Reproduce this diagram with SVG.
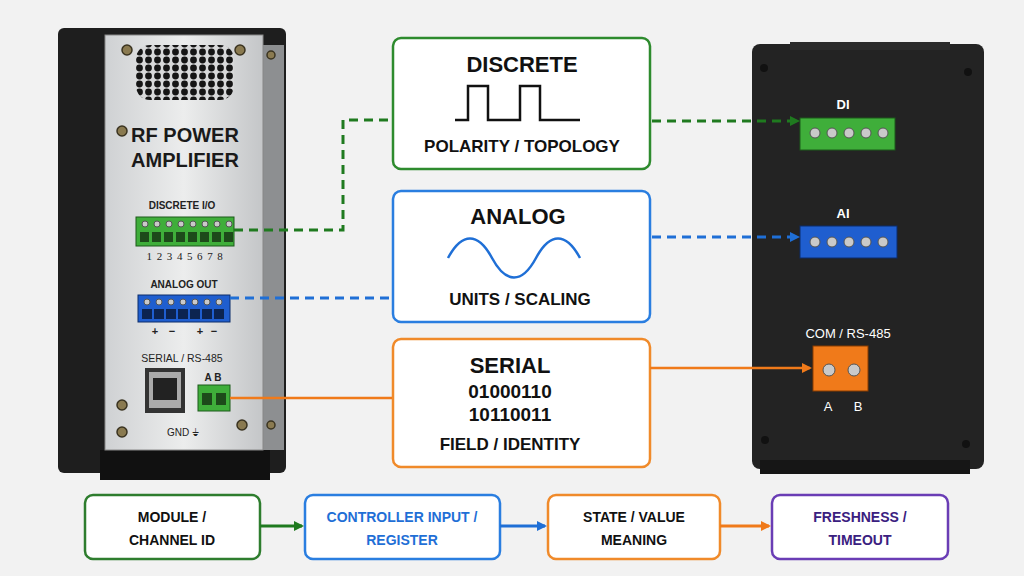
<svg xmlns="http://www.w3.org/2000/svg" width="1024" height="576" viewBox="0 0 1024 576">
<defs>
<style>
.t{font-family:"Liberation Sans",Arial,sans-serif;font-weight:bold;text-anchor:middle}
.f{font-family:"Liberation Sans",Arial,sans-serif;font-weight:bold;text-anchor:middle;font-size:14px}
.box{fill:#fff;stroke-width:2.5}
.screw{fill:#c9c9c9;stroke:#555;stroke-width:1}
.brass{fill:#8a7a50;stroke:#3a3320;stroke-width:1.5}
</style>
<marker id="ag" markerWidth="10" markerHeight="10" refX="8" refY="5" orient="auto" markerUnits="userSpaceOnUse"><path d="M0,0L10,5L0,10z" fill="#1f7a1f"/></marker>
<marker id="ab" markerWidth="10" markerHeight="10" refX="8" refY="5" orient="auto" markerUnits="userSpaceOnUse"><path d="M0,0L10,5L0,10z" fill="#1f6fd6"/></marker>
<marker id="ao" markerWidth="10" markerHeight="10" refX="8" refY="5" orient="auto" markerUnits="userSpaceOnUse"><path d="M0,0L10,5L0,10z" fill="#f07a1a"/></marker>
<linearGradient id="panel" x1="0" x2="1"><stop offset="0" stop-color="#cfd1d3"/><stop offset="0.5" stop-color="#eceded"/><stop offset="1" stop-color="#c4c6c8"/></linearGradient>
<pattern id="hex" width="9" height="8" patternUnits="userSpaceOnUse"><rect width="9" height="8" fill="#d8d9da"/><circle cx="4.5" cy="4" r="3.4" fill="#151515"/></pattern>
</defs>
<rect width="1024" height="576" fill="#f2f2f2"/>

<g id="left-device">
<rect x="58" y="28" width="228" height="445" rx="6" fill="#1e1e1e"/>
<rect x="100" y="450" width="170" height="30" fill="#111"/>
<rect x="262" y="45" width="22" height="405" fill="#8d8f91"/>
<rect x="105" y="35" width="158" height="415" fill="url(#panel)" stroke="#888"/>
<rect x="136" y="45" width="98" height="55" rx="14" fill="url(#hex)"/>
<circle class="brass" cx="127" cy="50" r="5"/><circle class="brass" cx="240" cy="50" r="5"/>
<circle class="brass" cx="122" cy="131" r="5"/><circle class="brass" cx="122" cy="405" r="5"/>
<circle class="brass" cx="122" cy="432" r="5"/><circle class="brass" cx="242" cy="425" r="5"/>
<circle class="brass" cx="271" cy="55" r="4"/><circle class="brass" cx="271" cy="425" r="4"/>
<text class="t" x="185" y="142" font-size="20" fill="#1a1a1a">RF POWER</text>
<text class="t" x="185" y="167" font-size="20" fill="#1a1a1a">AMPLIFIER</text>
<text class="t" x="182" y="209" font-size="10" fill="#222">DISCRETE I/O</text>
<rect x="136" y="217" width="98" height="29" fill="#3fae3a" stroke="#1d5a1a"/>
<g class="screw"><circle cx="145" cy="224" r="3"/><circle cx="157" cy="224" r="3"/><circle cx="169" cy="224" r="3"/><circle cx="181" cy="224" r="3"/><circle cx="193" cy="224" r="3"/><circle cx="205" cy="224" r="3"/><circle cx="217" cy="224" r="3"/><circle cx="229" cy="224" r="3"/></g>
<g fill="#1d4a1a"><rect x="140" y="232" width="9" height="10"/><rect x="152" y="232" width="9" height="10"/><rect x="164" y="232" width="9" height="10"/><rect x="176" y="232" width="9" height="10"/><rect x="188" y="232" width="9" height="10"/><rect x="200" y="232" width="9" height="10"/><rect x="212" y="232" width="9" height="10"/><rect x="224" y="232" width="9" height="10"/></g>
<text x="187" y="260" font-family="Liberation Serif,serif" font-size="11" text-anchor="middle" fill="#222" letter-spacing="4.6">12345678</text>
<text class="t" x="184" y="288" font-size="10" fill="#222">ANALOG OUT</text>
<rect x="138" y="295" width="92" height="27" fill="#1f5ecf" stroke="#0c2d6a"/>
<g class="screw"><circle cx="147" cy="302" r="3"/><circle cx="159" cy="302" r="3"/><circle cx="171" cy="302" r="3"/><circle cx="183" cy="302" r="3"/><circle cx="195" cy="302" r="3"/><circle cx="207" cy="302" r="3"/><circle cx="219" cy="302" r="3"/></g>
<g fill="#0c2450"><rect x="142" y="309" width="10" height="10"/><rect x="154" y="309" width="10" height="10"/><rect x="166" y="309" width="10" height="10"/><rect x="178" y="309" width="10" height="10"/><rect x="190" y="309" width="10" height="10"/><rect x="202" y="309" width="10" height="10"/><rect x="214" y="309" width="10" height="10"/></g>
<text class="t" x="155" y="335" font-size="11" fill="#222">+</text><text class="t" x="172" y="335" font-size="11" fill="#222">−</text>
<text class="t" x="200" y="335" font-size="11" fill="#222">+</text><text class="t" x="214" y="335" font-size="11" fill="#222">−</text>
<text x="182" y="362" font-family="Liberation Sans,sans-serif" font-size="10.5" text-anchor="middle" fill="#222">SERIAL / RS-485</text>
<rect x="145" y="368" width="40" height="45" fill="#333"/><rect x="149" y="372" width="32" height="36" fill="#aaa"/><rect x="153" y="378" width="24" height="22" fill="#222"/>
<text class="t" x="213" y="381" font-size="10" fill="#222">A  B</text>
<rect x="198" y="385" width="32" height="26" fill="#3fae3a" stroke="#1d5a1a"/>
<rect x="202" y="393" width="10" height="12" fill="#1d4a1a"/><rect x="216" y="393" width="10" height="12" fill="#1d4a1a"/>
<text x="183" y="436" font-family="Liberation Sans,sans-serif" font-size="10" text-anchor="middle" fill="#222">GND ⏚</text>
</g>

<g id="right-device">
<rect x="752" y="44" width="232" height="425" rx="8" fill="#232323"/>
<rect x="760" y="460" width="210" height="14" fill="#161616"/>
<rect x="790" y="42" width="160" height="8" fill="#2c2c2c"/>
<g fill="#111"><circle cx="764" cy="68" r="4"/><circle cx="968" cy="72" r="4"/><circle cx="765" cy="440" r="4"/><circle cx="966" cy="444" r="4"/></g>
<text class="t" x="843" y="109" font-size="13" fill="#fff">DI</text>
<rect x="800" y="118" width="95" height="32" fill="#3fae3a" stroke="#1d5a1a"/>
<g class="screw"><circle cx="815" cy="133" r="5"/><circle cx="832" cy="133" r="5"/><circle cx="849" cy="133" r="5"/><circle cx="866" cy="133" r="5"/><circle cx="883" cy="133" r="5"/></g>
<text class="t" x="843" y="218" font-size="13" fill="#fff">AI</text>
<rect x="800" y="226" width="97" height="32" fill="#1f5ecf" stroke="#0c2d6a"/>
<g class="screw"><circle cx="815" cy="242" r="5"/><circle cx="832" cy="242" r="5"/><circle cx="849" cy="242" r="5"/><circle cx="866" cy="242" r="5"/><circle cx="883" cy="242" r="5"/></g>
<text x="848" y="338" font-family="Liberation Sans,sans-serif" font-size="13" text-anchor="middle" fill="#fff">COM / RS-485</text>
<rect x="813" y="346" width="55" height="45" fill="#f07a1a" stroke="#8a3d00"/>
<circle class="screw" cx="829" cy="370" r="6"/><circle class="screw" cx="854" cy="370" r="6"/>
<text x="828" y="411" font-family="Liberation Sans,sans-serif" font-size="13" text-anchor="middle" fill="#fff">A</text>
<text x="858" y="411" font-family="Liberation Sans,sans-serif" font-size="13" text-anchor="middle" fill="#fff">B</text>
</g>

<g id="discrete">
<rect class="box" x="393" y="38" width="257" height="131" rx="8" stroke="#2e8b2e"/>
<text class="t" x="522" y="72" font-size="22" fill="#111">DISCRETE</text>
<path d="M455,120H468V86H488V120H520V86H540V120H580" fill="none" stroke="#111" stroke-width="2.5"/>
<text class="t" x="522" y="152" font-size="17" fill="#111">POLARITY / TOPOLOGY</text>
</g>
<g id="analog">
<rect class="box" x="393" y="191" width="257" height="131" rx="8" stroke="#2a7ee0"/>
<text class="t" x="518" y="224" font-size="22" fill="#111">ANALOG</text>
<path d="M448,258C462,232 478,232 492,258S522,284 536,258S566,232 580,258" fill="none" stroke="#1f6fd6" stroke-width="2.5"/>
<text class="t" x="520" y="305" font-size="17" fill="#111">UNITS / SCALING</text>
</g>
<g id="serial">
<rect class="box" x="393" y="339" width="257" height="128" rx="8" stroke="#f08a2a"/>
<text class="t" x="510" y="373" font-size="22" fill="#111">SERIAL</text>
<text class="t" x="510" y="398" font-size="19" fill="#111">01000110</text>
<text class="t" x="510" y="421" font-size="19" fill="#111">10110011</text>
<text class="t" x="510" y="450" font-size="17" fill="#111">FIELD / IDENTITY</text>
</g>

<g id="flow1"><rect class="box" x="85" y="495" width="175" height="64" rx="8" stroke="#2e7d2e"/>
<text class="f" x="172" y="522" fill="#111">MODULE /</text><text class="f" x="172" y="545" fill="#111">CHANNEL ID</text></g>
<g id="flow2"><rect class="box" x="305" y="495" width="195" height="64" rx="8" stroke="#2a7ee0"/>
<text class="f" x="402" y="522" fill="#1f6fd6">CONTROLLER INPUT /</text><text class="f" x="402" y="545" fill="#1f6fd6">REGISTER</text></g>
<g id="flow3"><rect class="box" x="548" y="495" width="172" height="64" rx="8" stroke="#f08a2a"/>
<text class="f" x="634" y="522" fill="#111">STATE / VALUE</text><text class="f" x="634" y="545" fill="#111">MEANING</text></g>
<g id="flow4"><rect class="box" x="772" y="495" width="176" height="64" rx="8" stroke="#6a3db5"/>
<text class="f" x="860" y="522" fill="#3a2080">FRESHNESS /</text><text class="f" x="860" y="545" fill="#3a2080">TIMEOUT</text></g>

<g id="connectors" fill="none" stroke-width="3">
<path d="M234,230H343V120H392" stroke="#1f7a1f" stroke-dasharray="9,6"/>
<path d="M652,121H798" stroke="#1f7a1f" stroke-dasharray="9,6" marker-end="url(#ag)"/>
<path d="M230,298H392" stroke="#1f6fd6" stroke-dasharray="9,6"/>
<path d="M652,237H798" stroke="#1f6fd6" stroke-dasharray="9,6" marker-end="url(#ab)"/>
<path d="M230,398H392" stroke="#f07a1a" stroke-width="2.5"/>
<path d="M650,368H810" stroke="#f07a1a" stroke-width="2.5" marker-end="url(#ao)"/>
<path d="M260,526H302" stroke="#1f7a1f" marker-end="url(#ag)"/>
<path d="M500,526H545" stroke="#1f6fd6" marker-end="url(#ab)"/>
<path d="M720,526H769" stroke="#f07a1a" marker-end="url(#ao)"/>
</g>
</svg>
